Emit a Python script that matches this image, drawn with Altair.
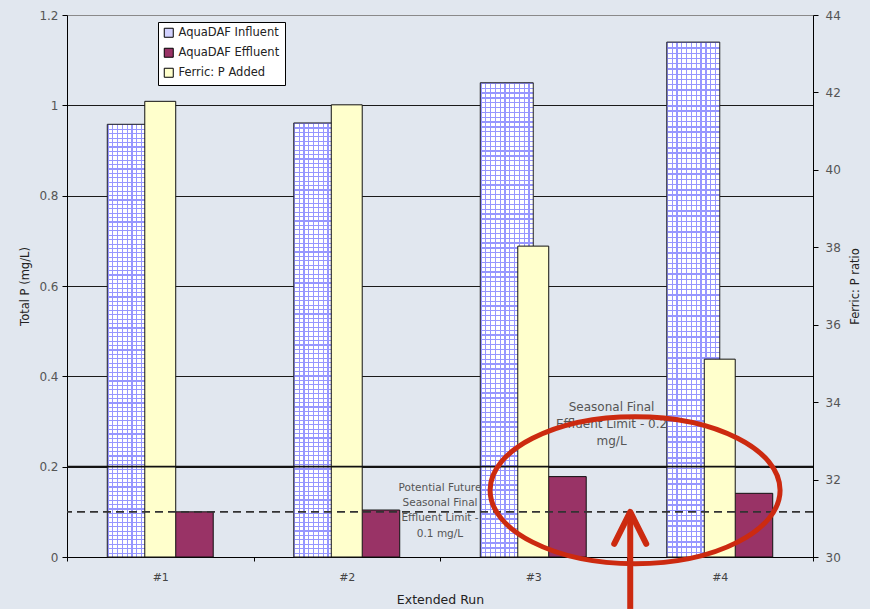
import altair as alt
import pandas as pd

# ---- data -------------------------------------------------------------
runs = ["#1", "#2", "#3", "#4"]
influent_tp = [0.958, 0.961, 1.050, 1.140]      # mg/L
effluent_tp = [0.100, 0.104, 0.178, 0.141]      # mg/L
ferric_p_ratio = [41.77, 41.68, 38.03, 35.11]   # secondary axis

series_names = ["AquaDAF Influent", "AquaDAF Effluent", "Ferric: P Added"]
series_colors = ["#d2d2ff", "#993366", "#ffffcc"]

seasonal_limit = 0.2
future_limit = 0.1

left_ticks = [0, 0.2, 0.4, 0.6, 0.8, 1.0, 1.2]
right_ticks = [30, 32, 34, 36, 38, 40, 42, 44]

seasonal_note = "Seasonal Final\nEffluent Limit - 0.2\nmg/L"
future_note = "Potential Future\nSeasonal Final\nEffluent Limit -\n0.1 mg/L"

# highlight annotation anchor values (data units)
highlight_run = "#4"
highlight_y = 0.148
arrow_tip_y = 0.1
arrow_tail_y = -0.115

# ---- tables -----------------------------------------------------------
influent_df = pd.DataFrame({"run": runs, "series": series_names[0], "value": influent_tp})
effluent_df = pd.DataFrame({"run": runs, "series": series_names[1], "value": effluent_tp})
ferric_df = pd.DataFrame({"run": runs, "series": series_names[2], "ratio": ferric_p_ratio})
seasonal_df = pd.DataFrame({"value": [seasonal_limit]})
future_df = pd.DataFrame({"value": [future_limit]})
# notes are anchored at their first line
note1_df = pd.DataFrame({"run": ["#3"], "value": [0.332], "label": [seasonal_note]})
note2_df = pd.DataFrame({"run": ["#2"], "value": [0.153], "label": [future_note]})
mark_df = pd.DataFrame({"run": [highlight_run], "value": [highlight_y]})
arrow_df = pd.DataFrame({"run": [highlight_run], "value": [arrow_tip_y], "tail": [arrow_tail_y]})

FONT = "DejaVu Sans"
RED = "#cc2a10"
HATCH = "#9696ff"

# ---- grid hatch for the influent bars (two crossed stripe gradients) ---
def stripes(n, line_color, gap_color, vertical):
    stops = []
    for k in range(n):
        a = k / n
        b = (k + 0.26) / n
        c = (k + 1) / n
        stops += [
            alt.GradientStop(offset=a, color=line_color),
            alt.GradientStop(offset=b, color=line_color),
            alt.GradientStop(offset=b, color=gap_color),
            alt.GradientStop(offset=c, color=gap_color),
        ]
    if vertical:
        return alt.LinearGradient(gradient="linear", stops=stops, x1=0, x2=1, y1=0, y2=0)
    return alt.LinearGradient(gradient="linear", stops=stops, x1=0, x2=0, y1=0, y2=1)

col_stripes = stripes(11, HATCH, "white", vertical=True)
row_stripes = stripes(98, HATCH, "rgba(150,150,255,0)", vertical=False)

# ---- shared encodings -------------------------------------------------
x_scale = alt.Scale(domain=runs, paddingInner=0, paddingOuter=0)
x_axis = alt.Axis(
    tickBand="extent", tickSize=4, labelPadding=10, labelAngle=0,
    labelFontSize=11, labelColor="#444", labelFont=FONT,
    titleFontSize=12.5, titleFont=FONT, titleColor="#222", titleFontWeight="normal",
    titlePadding=11, domainColor="black", tickColor="black", grid=False,
)


def xenc(band=None):
    if band is None:
        return alt.X("run:N", scale=x_scale, axis=x_axis, title="Extended Run")
    return alt.X("run:N", scale=x_scale, axis=x_axis, title="Extended Run", bandPosition=band)


p_scale = alt.Scale(domain=[0, 1.2], nice=False, zero=True)
left_axis = alt.Axis(
    values=left_ticks, format="~g", orient="left",
    tickSize=5, labelPadding=4, labelFontSize=12, labelColor="#555", labelFont=FONT,
    titleFontSize=11.5, titleFont=FONT, titleColor="#222", titleFontWeight="normal",
    titlePadding=8, domainColor="black", tickColor="black",
    grid=True, gridColor=alt.condition("datum.value >= 1.2", alt.value("#8a8a8a"), alt.value("#1a1a1a")),
    gridWidth=1,
)
y_primary = alt.Y("value:Q", scale=p_scale, axis=left_axis, title="Total P (mg/L)")
y_overlay = alt.Y("value:Q", scale=p_scale, axis=None)

offset = alt.XOffset(
    "series:N",
    scale=alt.Scale(domain=series_names[:2], paddingInner=0, paddingOuter=0.76),
)

color_enc = alt.Color(
    "series:N",
    scale=alt.Scale(domain=series_names, range=series_colors),
    legend=alt.Legend(
        orient="none", legendX=91, legendY=7, title=None,
        fillColor="white", strokeColor="black", padding=5,
        symbolType="square", symbolSize=81, symbolStrokeColor="black",
        symbolStrokeWidth=1, symbolOpacity=1,
        labelFont=FONT, labelFontSize=11.5, labelColor="#222",
        labelOffset=4, rowPadding=6,
    ),
)

# ---- primary axis bars -------------------------------------------------
influent_base = alt.Chart(influent_df).mark_bar(fill=col_stripes, strokeWidth=0).encode(
    x=xenc(), xOffset=offset, y=y_primary
)
influent_grid = alt.Chart(influent_df).mark_bar(
    fill=row_stripes, stroke="#222", strokeWidth=1
).encode(x=xenc(), xOffset=offset, y=y_primary)
effluent_bars = alt.Chart(effluent_df).mark_bar(stroke="#111", strokeWidth=1).encode(
    x=xenc(), xOffset=offset, y=y_primary, color=color_enc
)
primary = alt.layer(influent_base, influent_grid, effluent_bars)

# ---- secondary axis bars ----------------------------------------------
right_axis = alt.Axis(
    values=right_ticks, orient="right",
    tickSize=5, labelPadding=7, labelFontSize=12, labelColor="#555", labelFont=FONT,
    titleFontSize=11.5, titleFont=FONT, titleColor="#222", titleFontWeight="normal",
    titleAngle=270, titleBaseline="top", titlePadding=9,
    domainColor="black", tickColor="black", grid=False,
)
ferric_bars = alt.Chart(ferric_df).mark_bar(
    stroke="#111", strokeWidth=1, width=alt.RelativeBandSize(0.166)
).encode(
    x=xenc(),
    y=alt.Y("ratio:Q", scale=alt.Scale(domain=[30, 44], nice=False, zero=False),
            axis=right_axis, title="Ferric: P ratio"),
    y2=alt.datum(30),
    color=color_enc,
)

# ---- limit lines, notes and highlight ----------------------------------
seasonal_line = alt.Chart(seasonal_df).mark_rule(color="#111", strokeWidth=1.6).encode(y=y_overlay)
future_line = alt.Chart(future_df).mark_rule(
    color="#333", strokeWidth=1.8, strokeDash=[8, 5]
).encode(y=y_overlay)

note1 = alt.Chart(note1_df).mark_text(
    align="center", baseline="middle", lineBreak="\n", lineHeight=17,
    font=FONT, fontSize=12, color="#555",
).encode(x=xenc(0.92), y=y_overlay, text="label:N")
note2 = alt.Chart(note2_df).mark_text(
    align="center", baseline="middle", lineBreak="\n", lineHeight=15.3,
    font=FONT, fontSize=10.5, color="#555",
).encode(x=xenc(1.0), y=y_overlay, text="label:N")

ellipse = alt.Chart(mark_df).mark_point(
    shape="M -1 0 A 1 0.507 0 1 0 1 0 A 1 0.507 0 1 0 -1 0 Z",
    size=84100, filled=False, stroke=RED, strokeWidth=5, opacity=1,
).encode(x=xenc(0.046), y=y_overlay)

arrow_shaft = alt.Chart(arrow_df).mark_rule(color=RED, strokeWidth=6).encode(
    x=xenc(0.02), y=y_overlay, y2="tail:Q"
)
arrow_head = alt.Chart(arrow_df).mark_point(
    shape="M -0.5 1 L 0 0 L 0.5 1", size=4096, filled=False,
    stroke=RED, strokeWidth=6, strokeCap="round", strokeJoin="round", opacity=1,
).encode(x=xenc(0.02), y=y_overlay)

overlay = alt.layer(seasonal_line, future_line, note1, note2, ellipse, arrow_shaft, arrow_head)

chart = (
    alt.layer(primary, ferric_bars, overlay)
    .resolve_scale(y="independent")
    .properties(
        width=746, height=542,
        autosize=alt.AutoSizeParams(type="none"),
        padding={"left": 67, "top": 15, "right": 57, "bottom": 52},
        background="#e1e7ef",
    )
    .configure_view(stroke="#8a8a8a", strokeWidth=1)
    .configure(font=FONT)
)

chart.save("out.html", embed_options={"renderer": "svg", "actions": False})
